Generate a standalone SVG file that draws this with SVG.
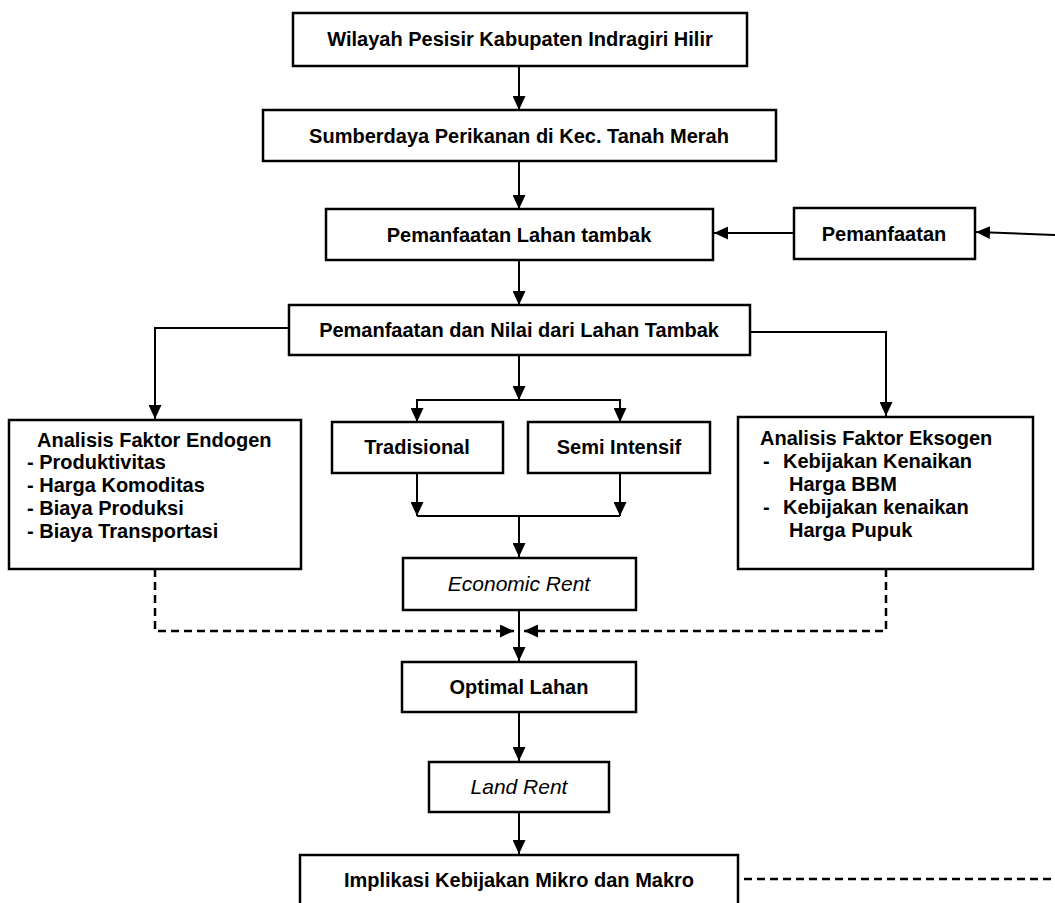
<svg xmlns="http://www.w3.org/2000/svg" width="1055" height="903" viewBox="0 0 1055 903">
<defs>
<marker id="ah" viewBox="0 0 14 13" refX="14" refY="6.5" markerWidth="14" markerHeight="13" markerUnits="userSpaceOnUse" orient="auto">
<path d="M0,0 L14,6.5 L0,13 z" fill="#000"/>
</marker>
<style>
.box{fill:#fff;stroke:#000;stroke-width:2.5}
.t{font-family:"Liberation Sans",Arial,sans-serif;font-weight:bold;font-size:20px;fill:#000}
.c{text-anchor:middle}
.i{font-style:italic;font-weight:normal;font-size:21px}
.ln{fill:none;stroke:#000;stroke-width:2}
.ds{fill:none;stroke:#000;stroke-width:2.5;stroke-dasharray:8,5}
</style>
</defs>
<rect width="1055" height="903" fill="#fff"/>
<g id="connectors">
<line class="ln" x1="519" y1="66" x2="519" y2="110" marker-end="url(#ah)"/>
<line class="ln" x1="519" y1="161" x2="519" y2="209" marker-end="url(#ah)"/>
<line class="ln" x1="794" y1="233" x2="714" y2="233" marker-end="url(#ah)"/>
<line class="ln" x1="1055" y1="235" x2="976" y2="232" marker-end="url(#ah)"/>
<line class="ln" x1="519" y1="260" x2="519" y2="305" marker-end="url(#ah)"/>
<polyline class="ln" points="289,328 155,328 155,419" marker-end="url(#ah)"/>
<polyline class="ln" points="750,332 886,332 886,416" marker-end="url(#ah)"/>
<line class="ln" x1="519" y1="355" x2="519" y2="400" marker-end="url(#ah)"/>
<line class="ln" x1="417" y1="400" x2="620" y2="400"/>
<line class="ln" x1="417" y1="399" x2="417" y2="422" marker-end="url(#ah)"/>
<line class="ln" x1="620" y1="399" x2="620" y2="422" marker-end="url(#ah)"/>
<line class="ln" x1="417" y1="473" x2="417" y2="516" marker-end="url(#ah)"/>
<line class="ln" x1="620" y1="473" x2="620" y2="516" marker-end="url(#ah)"/>
<line class="ln" x1="417" y1="516" x2="620" y2="516"/>
<line class="ln" x1="519" y1="516" x2="519" y2="557" marker-end="url(#ah)"/>
<line class="ln" x1="519" y1="610" x2="519" y2="661" marker-end="url(#ah)"/>
<polyline class="ds" points="155,569 155,631 514,631" marker-end="url(#ah)"/>
<polyline class="ds" points="886,569 886,631 524,631" marker-end="url(#ah)"/>
<line class="ln" x1="519" y1="712" x2="519" y2="761" marker-end="url(#ah)"/>
<line class="ln" x1="519" y1="812" x2="519" y2="854" marker-end="url(#ah)"/>
<line class="ds" x1="744" y1="879" x2="1055" y2="879"/>
</g>
<g id="n1"><rect class="box" x="293" y="13" width="454" height="53"/><text class="t c" x="520" y="46">Wilayah Pesisir Kabupaten Indragiri Hilir</text></g>
<g id="n2"><rect class="box" x="263" y="110" width="513" height="51"/><text class="t c" x="519" y="143">Sumberdaya Perikanan di Kec. Tanah Merah</text></g>
<g id="n3"><rect class="box" x="326" y="209" width="387" height="51"/><text class="t c" x="519" y="242">Pemanfaatan Lahan tambak</text></g>
<g id="n4"><rect class="box" x="794" y="208" width="181" height="51"/><text class="t c" x="884" y="241">Pemanfaatan</text></g>
<g id="n5"><rect class="box" x="289" y="305" width="461" height="50"/><text class="t c" x="519" y="337">Pemanfaatan dan Nilai dari Lahan Tambak</text></g>
<g id="n6"><rect class="box" x="9" y="420" width="292" height="149"/>
<text class="t" x="37" y="447">Analisis Faktor Endogen</text>
<text class="t" x="27" y="469">- Produktivitas</text>
<text class="t" x="27" y="492">- Harga Komoditas</text>
<text class="t" x="27" y="515">- Biaya Produksi</text>
<text class="t" x="27" y="538">- Biaya Transportasi</text></g>
<g id="n7"><rect class="box" x="332" y="422" width="171" height="51"/><text class="t c" x="417" y="454">Tradisional</text></g>
<g id="n8"><rect class="box" x="528" y="422" width="182" height="51"/><text class="t c" x="619" y="454">Semi Intensif</text></g>
<g id="n9"><rect class="box" x="738" y="417" width="295" height="152"/>
<text class="t" x="760" y="445">Analisis Faktor Eksogen</text>
<text class="t" x="763" y="468">-</text><text class="t" x="783" y="468">Kebijakan Kenaikan</text>
<text class="t" x="789" y="491">Harga BBM</text>
<text class="t" x="763" y="514">-</text><text class="t" x="783" y="514">Kebijakan kenaikan</text>
<text class="t" x="789" y="537">Harga Pupuk</text></g>
<g id="n10"><rect class="box" x="403" y="558" width="233" height="52"/><text class="t c i" x="519" y="591">Economic Rent</text></g>
<g id="n11"><rect class="box" x="402" y="662" width="234" height="50"/><text class="t c" x="519" y="694">Optimal Lahan</text></g>
<g id="n12"><rect class="box" x="429" y="762" width="180" height="50"/><text class="t c i" x="519" y="794">Land Rent</text></g>
<g id="n13"><rect class="box" x="300" y="855" width="438" height="60"/><text class="t c" x="519" y="887">Implikasi Kebijakan Mikro dan Makro</text></g>
</svg>
